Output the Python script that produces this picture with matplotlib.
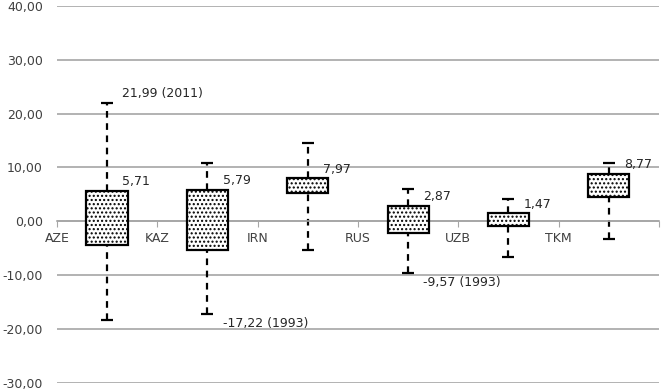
import matplotlib.pyplot as plt
import numpy as np

# Per-country spread of values (box = lower/upper, whiskers = min/max)
countries = ['AZE', 'KAZ', 'IRN', 'RUS', 'UZB', 'TKM']
box_low = [-4.4, -5.3, 5.2, -2.1, -0.85, 4.6]
box_high = [5.71, 5.79, 7.97, 2.87, 1.47, 8.77]
whisk_low = [-18.25, -17.22, -5.3, -9.57, -6.55, -3.3]
whisk_high = [21.99, 10.84, 14.6, 5.96, 4.1, 10.9]

# value labels
top_labels = ['21,99 (2011)', '5,71', '5,79', '7,97', '2,87', '1,47', '8,77']
top_idx = [0, 0, 1, 2, 3, 4, 5]
top_vals = [21.99, 5.71, 5.79, 7.97, 2.87, 1.47, 8.77]
low_labels = ['-17,22 (1993)', '-9,57 (1993)']
low_idx = [1, 3]
low_vals = [-17.22, -9.57]

plt.rcParams['font.family'] = 'DejaVu Sans'
plt.rcParams['hatch.linewidth'] = 1.0

fig = plt.figure(figsize=(6.61, 3.90), dpi=100)
ax = fig.add_axes([0.086, 0.018, 0.911, 0.967])

x = np.arange(len(countries)) + 0.5

# grid
for yv in range(-30, 41, 10):
    ax.axhline(yv, color='#a6a6a6', lw=1.2, zorder=0)

# whiskers
ax.vlines(x, box_high, whisk_high, colors='black', linestyles=(0, (3, 2.5)), lw=1.6, zorder=2)
ax.vlines(x, whisk_low, box_low, colors='black', linestyles=(0, (3, 2.5)), lw=1.6, zorder=2)
ax.hlines(whisk_high, x - 0.06, x + 0.06, colors='black', lw=1.6, zorder=2)
ax.hlines(whisk_low, x - 0.06, x + 0.06, colors='black', lw=1.6, zorder=2)

# boxes
heights = np.array(box_high) - np.array(box_low)
ax.bar(x, heights, bottom=box_low, width=0.41, color='white', edgecolor='black',
       linewidth=1.6, hatch='....', zorder=3)

for i, t, v in zip(top_idx, top_labels, top_vals):
    ax.annotate(t, (x[i], v), xytext=(11, 2), textcoords='offset points',
                ha='left', va='bottom', fontsize=9, color='#262626')
for i, t, v in zip(low_idx, low_labels, low_vals):
    ax.annotate(t, (x[i], v), xytext=(11, -2), textcoords='offset points',
                ha='left', va='top', fontsize=9, color='#262626')

ax.set_xlim(0, len(countries))
ax.set_ylim(-30, 40)
ax.set_yticks(range(-30, 41, 10))
ax.set_yticklabels([f'{v:.2f}'.replace('.', ',') for v in range(-30, 41, 10)])
ax.set_xticks(np.arange(len(countries) + 1))
ax.set_xticklabels(countries + [''])

for s in ['top', 'right', 'left']:
    ax.spines[s].set_visible(False)
ax.spines['bottom'].set_position(('data', 0))
ax.spines['bottom'].set_color('#a6a6a6')
ax.spines['bottom'].set_linewidth(1.2)

ax.tick_params(axis='y', length=0, pad=10, labelsize=9, labelcolor='#404040')
ax.tick_params(axis='x', direction='out', length=4, color='#a6a6a6', pad=4,
               labelsize=9, labelcolor='#404040')

fig.savefig('out.png', dpi=100)
